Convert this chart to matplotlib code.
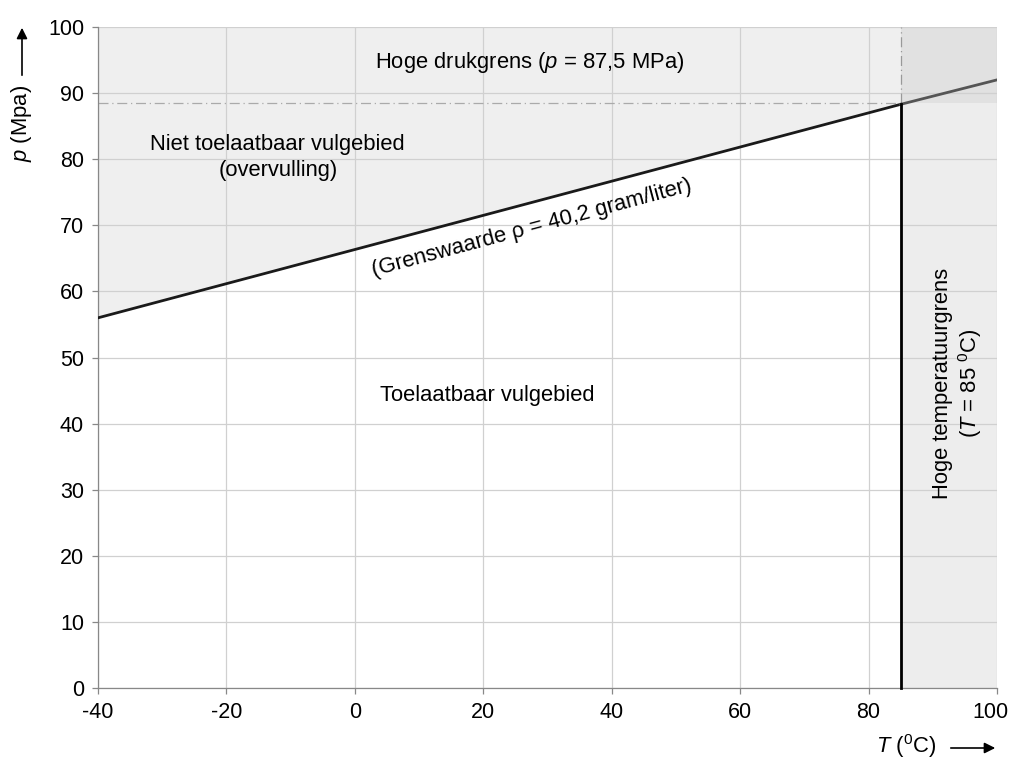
import matplotlib
matplotlib.use("Agg")
import matplotlib.pyplot as plt
import numpy as np

plt.rcParams['font.family'] = ['Liberation Sans', 'DejaVu Sans']
plt.rcParams['axes.unicode_minus'] = False
plt.rcParams['mathtext.fontset'] = 'custom'
plt.rcParams['mathtext.it'] = 'Liberation Sans:italic'
plt.rcParams['mathtext.rm'] = 'Liberation Sans'

# data
line_T = [-40, 85, 100]
line_p = [56, 88.3, 92]
T_limit = 85
p_limit_line = 88.5
x_ticks = [-40, -20, 0, 20, 40, 60, 80, 100]
x_tick_labels = ['-40', '-20', '0', '20', '40', '60', '80', '100']
y_ticks = [0, 10, 20, 30, 40, 50, 60, 70, 80, 90, 100]

fig = plt.figure(figsize=(10.11, 7.63), dpi=100)
ax = fig.add_axes([98/1011, 1-688/763, (997-98)/1011, (688-27)/763])
ax.set_xlim(-40, 100)
ax.set_ylim(0, 100)

# shading
ax.fill_between(line_T[:2], line_p[:2], 100, color='#efefef', zorder=0, linewidth=0)
ax.fill_between([T_limit, 100], 0, p_limit_line, color='#ededed', zorder=0, linewidth=0)
ax.fill_between([T_limit, 100], p_limit_line, 100, color='#e1e1e1', zorder=0, linewidth=0)

fs_tick = 15.5
ax.set_xticks(x_ticks)
ax.set_xticklabels(x_tick_labels[:-1] + [''])
ax.set_yticks(y_ticks)
ax.grid(True, color='#d0d0d0', linewidth=0.9, zorder=1)
ax.set_axisbelow(True)
ax.tick_params(labelsize=fs_tick, length=4, color='#888888', width=0.9, pad=6)
for s in ['top', 'right']:
    ax.spines[s].set_visible(False)
for s in ['left', 'bottom']:
    ax.spines[s].set_color('#888888')
    ax.spines[s].set_linewidth(0.9)
# last x tick label, nudged left so it stays inside the figure
ax.annotate(x_tick_labels[-1], xy=(x_ticks[-1], 0), xycoords='data', xytext=(-4.5, -10),
            textcoords='offset points', ha='center', va='top', fontsize=fs_tick,
            annotation_clip=False)

# limit lines
ax.plot([-40, T_limit], [p_limit_line, p_limit_line], color='#aaaaaa', lw=0.9, ls=(0, (8, 3, 1, 3)), zorder=2)
ax.plot([T_limit, T_limit], [p_limit_line, 100], color='#999999', lw=0.9, ls=(0, (8, 3, 1, 3)), zorder=2)
ax.plot(line_T[:2], line_p[:2], color='#1a1a1a', lw=2.0, zorder=3)
ax.plot(line_T[1:], line_p[1:], color='#555555', lw=2.0, zorder=3)
ax.plot([T_limit, T_limit], [0, line_p[1]], color='#000000', lw=2.0, zorder=3, clip_on=False)

fs = 15.8
ax.text(27.3, 94.7, 'Hoge drukgrens ($p$ = 87,5 MPa)', ha='center', va='center', fontsize=fs)
ax.text(-12, 80.3, 'Niet toelaatbaar vulgebied\n(overvulling)', ha='center', va='center', fontsize=fs, linespacing=1.3)
ax.text(27.6, 69.6, '(Grenswaarde ρ = 40,2 gram/liter)', ha='center', va='center', fontsize=fs, rotation=15, rotation_mode='anchor')
ax.text(20.6, 44.2, 'Toelaatbaar vulgebied', ha='center', va='center', fontsize=fs)
ax.text(94.0, 46.1, 'Hoge temperatuurgrens\n($T$ = 85 $^0$C)', ha='center', va='center', fontsize=fs, rotation=90, linespacing=1.15)

# axis labels with arrows
fig.text(22/1011, 1-123/763, '$p$ (Mpa)', rotation=90, ha='center', va='center', fontsize=fs)
fig.add_artist(matplotlib.patches.FancyArrowPatch((22/1011, 1-78/763), (22/1011, 1-25/763),
               transform=fig.transFigure, arrowstyle='-|>', mutation_scale=16, color='black', lw=1.2))
fig.text(906/1011, 1-746/763, '$T$ ($^0$C)', ha='center', va='center', fontsize=fs)
fig.add_artist(matplotlib.patches.FancyArrowPatch((948/1011, 1-748/763), (998/1011, 1-748/763),
               transform=fig.transFigure, arrowstyle='-|>', mutation_scale=16, color='black', lw=1.2))

fig.savefig('out.png', dpi=100)
